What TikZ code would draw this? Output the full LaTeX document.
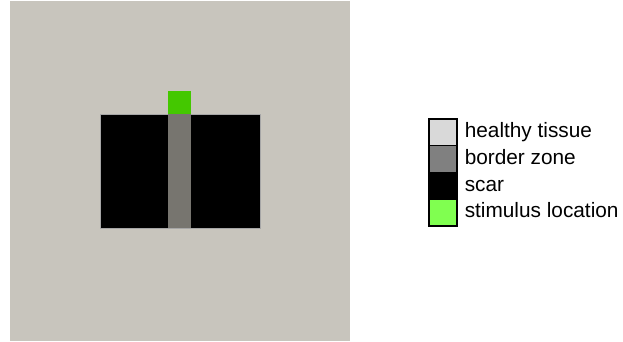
\documentclass[tikz,border=0pt]{standalone}
\usepackage{fontspec}
\setmainfont{Liberation Sans}
\usetikzlibrary{positioning}
\definecolor{tissuebg}{HTML}{C8C5BD}
\definecolor{bzgray}{HTML}{77756F}
\definecolor{stimgreen}{HTML}{44C800}
\definecolor{keyhealthy}{HTML}{D9D9D9}
\definecolor{keyborder}{HTML}{808080}
\definecolor{keystim}{HTML}{80FF50}

\begin{document}
\begin{tikzpicture}[x=1pt,y=-1pt,
  key/.style={draw=black,line width=1.6pt,minimum width=28pt,minimum height=26.75pt,inner sep=0pt,anchor=north west},
  keytext/.style={right=7pt,inner sep=0pt,text height=15pt,text depth=4pt,font=\fontsize{20.8}{24}\selectfont}]
  \useasboundingbox (0,0) rectangle (623,342);
  % tissue map
  \fill[tissuebg] (10,1) rectangle (350,341);
  \fill[black] (100,114) rectangle (260,228);
  \draw[gray!70,line width=.5pt] (100,114) rectangle (260,228);
  \fill[bzgray] (168,114) rectangle (191,228);
  \fill[stimgreen] (168,91) rectangle (191,114);
  % legend
  \node[key,fill=keyhealthy] (kh) at (428,118) {};
  \node[key,fill=keyborder] (kb) at (428,144.75) {};
  \node[key,fill=black] (ks) at (428,171.5) {};
  \node[key,fill=keystim] (kst) at (428,198.25) {};
  \node[keytext] (th) at (kh.east) {healthy tissue};
  \node[keytext] (tb) at (kb.east) {border zone};
  \node[keytext] (ts) at (ks.east) {scar};
  \node[keytext] (tst) at (kst.east) {stimulus location};
\end{tikzpicture}
\end{document}
